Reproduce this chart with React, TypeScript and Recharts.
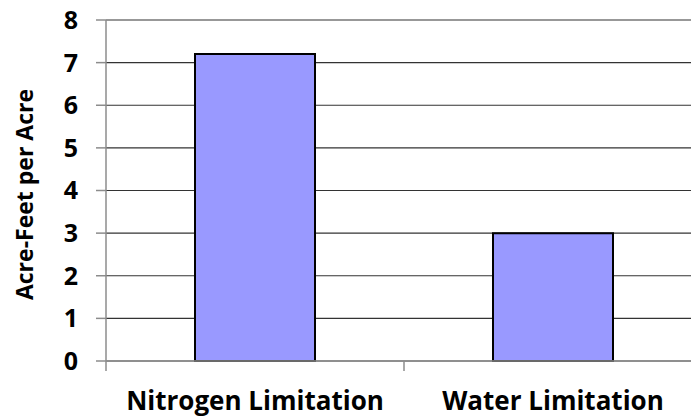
import { BarChart, Bar, XAxis, YAxis, CartesianGrid } from 'recharts';

const categories = ['Nitrogen Limitation', 'Water Limitation'];
const values = [7.2, 3.0];
const yTicks = [0, 1, 2, 3, 4, 5, 6, 7, 8];
const yTitle = 'Acre-Feet per Acre';

const data = categories.map((name, i) => ({ name, value: values[i] }));

const FONT = '"Open Sans", Lato, sans-serif';
const AXIS = '#8c8c8c';

// Excel puts x ticks between categories, so draw the tick at the band's left edge
function CategoryTick(props: any) {
  const { x, y, payload } = props;
  const edge = x - (payload.offset || 0);
  return (
    <g>
      <line x1={edge} y1={y - 8} x2={edge} y2={y + 2} stroke={AXIS} strokeWidth={1.5} />
      <text x={x} y={y + 41} textAnchor="middle" fontFamily={FONT} fontWeight={700} fontSize={26} fill="#000">
        {payload.value}
      </text>
    </g>
  );
}

function YTitle(props: any) {
  const vb = props.viewBox || {};
  const cx = 33;
  const cy = vb.y + vb.height / 2 + 4;
  return (
    <text
      x={cx}
      y={cy}
      transform={`rotate(-90 ${cx} ${cy})`}
      textAnchor="middle"
      fontFamily={FONT}
      fontWeight={700}
      fontSize={23}
      fill="#000"
    >
      {yTitle}
    </text>
  );
}

export default function App() {
  return (
    <div style={{ position: 'absolute', left: 0, top: 0, width: 691, height: 417, overflow: 'hidden', background: '#fff' }}>
      <BarChart width={710} height={417} data={data} margin={{ top: 20, right: 8, bottom: 0, left: 0 }} barSize={120}>
        <CartesianGrid vertical={false} stroke="#333" strokeWidth={1.2} />
        <XAxis
          dataKey="name"
          axisLine={{ stroke: AXIS, strokeWidth: 1.5 }}
          tickLine={false}
          tick={<CategoryTick />}
          height={56}
          interval={0}
        />
        <YAxis
          domain={[0, 8]}
          ticks={yTicks}
          width={106}
          axisLine={{ stroke: AXIS, strokeWidth: 1.5 }}
          tickLine={{ stroke: AXIS, strokeWidth: 1.5 }}
          tickSize={10}
          tickMargin={18}
          tick={{ fill: '#000', fontFamily: FONT, fontWeight: 700, fontSize: 25 }}
          label={{ content: <YTitle /> }}
        />
        <Bar dataKey="value" fill="#9999ff" stroke="#000" strokeWidth={2} isAnimationActive={false} />
      </BarChart>
    </div>
  );
}
